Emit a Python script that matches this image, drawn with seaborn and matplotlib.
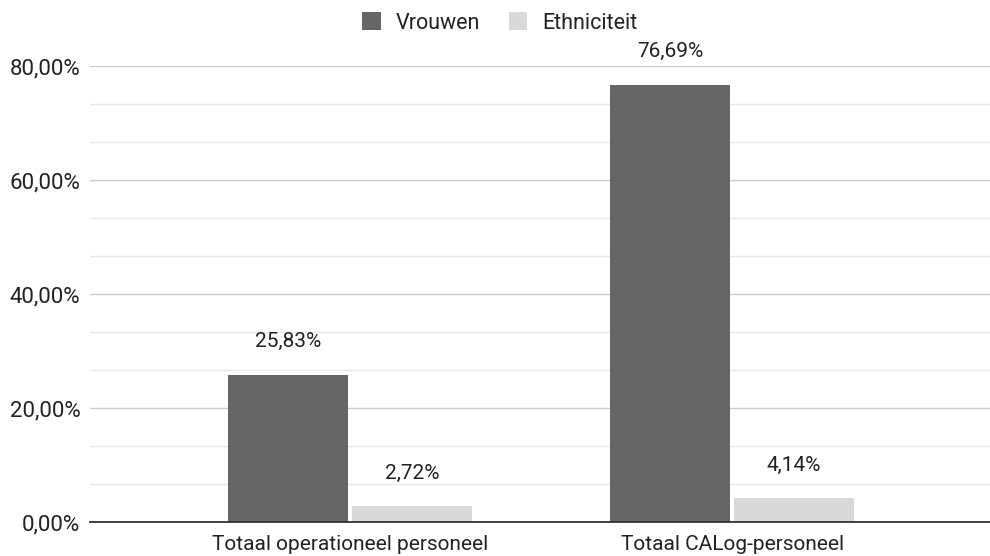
import matplotlib
matplotlib.use("Agg")
import matplotlib.pyplot as plt
from matplotlib.ticker import MultipleLocator, FuncFormatter
from matplotlib.patches import Patch
import seaborn as sns
import pandas as pd

categories = ["Totaal operationeel personeel", "Totaal CALog-personeel"]
series_names = ["Vrouwen", "Ethniciteit"]
vrouwen = [25.83, 76.69]
ethniciteit = [2.72, 4.14]
y_ticks = [0, 20, 40, 60, 80]

df = pd.DataFrame({
    "categorie": categories * 2,
    "reeks": [series_names[0]] * 2 + [series_names[1]] * 2,
    "waarde": vrouwen + ethniciteit,
})

sns.set_theme(style="white")
plt.rcParams["font.family"] = ["Roboto", "DejaVu Sans"]

colors = {"Vrouwen": "#666666", "Ethniciteit": "#d9d9d9"}
text_color = "#222222"

fig = plt.figure(figsize=(9.9, 5.56), dpi=100)
ax = fig.add_axes([90 / 990, 34 / 556, 900 / 990, 456 / 556])

sns.barplot(data=df, x="categorie", y="waarde", hue="reeks", order=categories,
            hue_order=series_names, palette=colors, width=0.649, gap=0.033,
            saturation=1, edgecolor="none", linewidth=0, ax=ax, legend=False)

ax.set_xlim(-0.681, 1.675)
ax.set_ylim(0, 80)
ax.set_yticks(y_ticks)
ax.yaxis.set_minor_locator(MultipleLocator(20 / 3))
ax.yaxis.set_major_formatter(FuncFormatter(lambda v, _: f"{v:.2f}%".replace(".", ",")))
ax.grid(axis="y", which="major", color="#cccccc", linewidth=1.0)
ax.grid(axis="y", which="minor", color="#e8e8e8", linewidth=1.0)
ax.set_axisbelow(True)
for side in ["left", "right", "top"]:
    ax.spines[side].set_visible(False)
ax.spines["bottom"].set_color("#333333")
ax.spines["bottom"].set_linewidth(1.3)
ax.tick_params(axis="y", which="both", length=0, pad=7, labelsize=16, labelcolor=text_color)
ax.tick_params(axis="x", length=0, pad=9, labelsize=15, labelcolor=text_color)
ax.set_xlabel("")
ax.set_ylabel("")

# value labels above each bar
for container in ax.containers:
    for bar in container:
        h = bar.get_height()
        ax.annotate(f"{h:.2f}%".replace(".", ","),
                    (bar.get_x() + bar.get_width() / 2, h),
                    xytext=(0, 33), textcoords="offset pixels",
                    ha="center", va="center", fontsize=15, color=text_color,
                    annotation_clip=False)

handles = [Patch(facecolor=colors[n], edgecolor="none", label=n) for n in series_names]
fig.legend(handles=handles, loc="center", bbox_to_anchor=(500 / 990, 1 - 23 / 556),
           ncol=2, frameon=False, fontsize=15.5, handlelength=0.85, handleheight=0.85,
           handletextpad=0.7, columnspacing=1.35, labelcolor=text_color)

fig.savefig("out.png", dpi=100)
